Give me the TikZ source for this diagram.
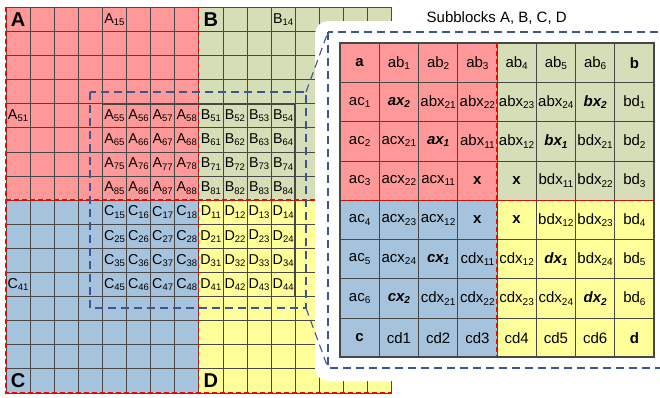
\documentclass[tikz,border=0pt]{standalone}
\usepackage{fontspec}
\setmainfont{Liberation Sans}
% lowered index, keeps the current series and shape
\newcommand\lw[1]{\raisebox{-0.3ex}{\fontsize{9.5}{9.5}\selectfont #1}}
\newcommand\lwt[1]{\raisebox{-0.3ex}{\fontsize{10}{10}\selectfont #1}}
\newcommand\bi[1]{\textbf{\textit{#1}}}
\begin{document}
\begin{tikzpicture}[x=1pt,y=-1pt]
\useasboundingbox (0,0) rectangle (660,397);
\definecolor{blkA}{RGB}{255,153,153}
\definecolor{blkB}{RGB}{214,222,184}
\definecolor{blkC}{RGB}{166,195,221}
\definecolor{blkD}{RGB}{255,255,153}
\definecolor{gline}{RGB}{72,72,72}
\definecolor{zoomblue}{RGB}{58,86,150}
\tikzset{
  gridline/.style={draw=gline, line width=0.8pt},
  reddash/.style={draw=red, line width=1.3pt, dash pattern=on 5pt off 3pt},
  bluedash/.style={draw=zoomblue, line width=1.1pt, dash pattern=on 8pt off 5pt},
  glbl/.style={inner sep=0pt, font=\fontsize{14.3}{14.3}\selectfont},
  gbig/.style={inner sep=0pt, font=\fontsize{20}{20}\selectfont\bfseries},
  tcell/.style={inner sep=0pt, font=\fontsize{15}{15}\selectfont},
  ttl/.style={inner sep=0pt, font=\fontsize{15}{15}\selectfont},
}
% ---------- 16 x 16 matrix split into blocks A, B, C, D ----------
\def\gx{6}\def\gy{7.3}\def\gc{24.1}
\fill[blkA] (\gx,\gy) rectangle ++(8*\gc,8*\gc);
\fill[blkB] (\gx+8*\gc,\gy) rectangle ++(8*\gc,8*\gc);
\fill[blkC] (\gx,\gy+8*\gc) rectangle ++(8*\gc,8*\gc);
\fill[blkD] (\gx+8*\gc,\gy+8*\gc) rectangle ++(8*\gc,8*\gc);
\foreach \i in {0,...,16}{
  \draw[gridline] (\gx+\i*\gc,\gy) -- ++(0,16*\gc);
  \draw[gridline] (\gx,\gy+\i*\gc) -- ++(16*\gc,0);
}
\draw[draw=gline, line width=1.6pt] (\gx+4*\gc,\gy+4*\gc) rectangle ++(8*\gc,8*\gc);
\draw[reddash] (\gx,\gy) rectangle ++(16*\gc,16*\gc);
\draw[reddash] (\gx+8*\gc,\gy) -- ++(0,16*\gc);
\draw[reddash] (\gx,\gy+8*\gc) -- ++(16*\gc,0);
% block names and sample entries
\node[gbig] (nA) at (\gx+0.5*\gc,\gy+0.5*\gc) {A};
\node[gbig] (nB) at (\gx+8.5*\gc,\gy+0.5*\gc) {B};
\node[gbig] (nC) at (\gx+0.5*\gc,\gy+15.5*\gc) {C};
\node[gbig] (nD) at (\gx+8.5*\gc,\gy+15.5*\gc) {D};
\node[glbl] (a15) at (\gx+4.5*\gc,\gy+0.5*\gc) {A\lw{15}};
\node[glbl] (a51) at (\gx+0.5*\gc,\gy+4.5*\gc) {A\lw{51}};
\node[glbl] (b14) at (\gx+11.5*\gc,\gy+0.5*\gc) {B\lw{14}};
\node[glbl] (c41) at (\gx+0.5*\gc,\gy+11.5*\gc) {C\lw{41}};
\foreach \r in {1,...,4}{
  \foreach \c in {1,...,4}{
    \pgfmathtruncatemacro\ra{\r+4}
    \pgfmathtruncatemacro\ca{\c+4}
    \pgfmathsetmacro\xl{\gx+(\c+3.5)*\gc}
    \pgfmathsetmacro\xr{\gx+(\c+7.5)*\gc}
    \pgfmathsetmacro\yt{\gy+(\r+3.5)*\gc}
    \pgfmathsetmacro\yb{\gy+(\r+7.5)*\gc}
    \node[glbl] (a\ra\ca) at (\xl,\yt) {A\lw{\ra\ca}};
    \node[glbl] (b\ra\c) at (\xr,\yt) {B\lw{\ra\c}};
    \node[glbl] (c\r\ca) at (\xl,\yb) {C\lw{\r\ca}};
    \node[glbl] (d\r\c) at (\xr,\yb) {D\lw{\r\c}};
  }
}
% ---------- zoomed region ----------
\coordinate (zNW) at (90,92);
\coordinate (zSE) at (306,308);
\draw[bluedash] (zNW) rectangle (zSE);
% ---------- enlarged panel ----------
\fill[white, rounded corners=13pt] (315,21) rectangle (700,381);
\coordinate (pNW) at (328,32);
\coordinate (pSE) at (690,368);
\draw[bluedash] (pNW) rectangle (pSE);
\draw[bluedash] (zSE |- zNW) -- (pNW);
\draw[bluedash] (zSE) -- (pNW |- pSE);
\node[ttl] (title) at (496.7,18) {Subblocks A, B, C, D};
% table of subblocks
\def\tx{340}\def\ty{43.3}\def\tc{39.25}
\fill[blkA] (\tx,\ty) rectangle ++(4*\tc,4*\tc);
\fill[blkB] (\tx+4*\tc,\ty) rectangle ++(4*\tc,4*\tc);
\fill[blkC] (\tx,\ty+4*\tc) rectangle ++(4*\tc,4*\tc);
\fill[blkD] (\tx+4*\tc,\ty+4*\tc) rectangle ++(4*\tc,4*\tc);
\foreach \i in {1,...,7}{
  \draw[gridline] (\tx+\i*\tc,\ty) -- ++(0,8*\tc);
  \draw[gridline] (\tx,\ty+\i*\tc) -- ++(8*\tc,0);
}
\draw[reddash] (\tx+4*\tc,\ty) -- ++(0,8*\tc);
\draw[reddash] (\tx,\ty+4*\tc) -- ++(8*\tc,0);
\draw[draw=gline, line width=2pt] (\tx,\ty) rectangle ++(8*\tc,8*\tc);
\newcommand\tabrow[9]{%
  \pgfmathsetmacro\rowy{\ty+(#1-0.5)*\tc}
  \node[tcell] (t#1-1) at (\tx+0.5*\tc,\rowy) {#2};
  \node[tcell] (t#1-2) at (\tx+1.5*\tc,\rowy) {#3};
  \node[tcell] (t#1-3) at (\tx+2.5*\tc,\rowy) {#4};
  \node[tcell] (t#1-4) at (\tx+3.5*\tc,\rowy) {#5};
  \node[tcell] (t#1-5) at (\tx+4.5*\tc,\rowy) {#6};
  \node[tcell] (t#1-6) at (\tx+5.5*\tc,\rowy) {#7};
  \node[tcell] (t#1-7) at (\tx+6.5*\tc,\rowy) {#8};
  \node[tcell] (t#1-8) at (\tx+7.5*\tc,\rowy) {#9};
}
\tabrow{1}{\textbf{a}}{ab\lwt{1}}{ab\lwt{2}}{ab\lwt{3}}{ab\lwt{4}}{ab\lwt{5}}{ab\lwt{6}}{\textbf{b}}
\tabrow{2}{ac\lwt{1}}{\bi{ax\lwt{2}}}{abx\lwt{21}}{abx\lwt{22}}{abx\lwt{23}}{abx\lwt{24}}{\bi{bx\lwt{2}}}{bd\lwt{1}}
\tabrow{3}{ac\lwt{2}}{acx\lwt{21}}{\bi{ax\lwt{1}}}{abx\lwt{11}}{abx\lwt{12}}{\bi{bx\lwt{1}}}{bdx\lwt{21}}{bd\lwt{2}}
\tabrow{4}{ac\lwt{3}}{acx\lwt{22}}{acx\lwt{11}}{\textbf{x}}{\textbf{x}}{bdx\lwt{11}}{bdx\lwt{22}}{bd\lwt{3}}
\tabrow{5}{ac\lwt{4}}{acx\lwt{23}}{acx\lwt{12}}{\textbf{x}}{\textbf{x}}{bdx\lwt{12}}{bdx\lwt{23}}{bd\lwt{4}}
\tabrow{6}{ac\lwt{5}}{acx\lwt{24}}{\bi{cx\lwt{1}}}{cdx\lwt{11}}{cdx\lwt{12}}{\bi{dx\lwt{1}}}{bdx\lwt{24}}{bd\lwt{5}}
\tabrow{7}{ac\lwt{6}}{\bi{cx\lwt{2}}}{cdx\lwt{21}}{cdx\lwt{22}}{cdx\lwt{23}}{cdx\lwt{24}}{\bi{dx\lwt{2}}}{bd\lwt{6}}
\tabrow{8}{\textbf{c}}{cd1}{cd2}{cd3}{cd4}{cd5}{cd6}{\textbf{d}}
\end{tikzpicture}
\end{document}
